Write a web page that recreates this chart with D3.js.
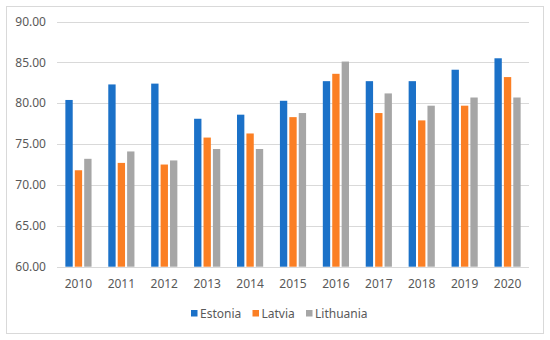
<!DOCTYPE html>
<html>
<head>
<meta charset="utf-8">
<script src="https://cdn.jsdelivr.net/npm/d3@7"></script>
<style>
  body { margin: 0; background: #fff; }
  text { font-family: "Noto Sans", sans-serif; fill: #595959; }
</style>
</head>
<body>
<svg id="chart" width="550" height="340"></svg>
<script>
const years = ["2010", "2011", "2012", "2013", "2014", "2015", "2016", "2017", "2018", "2019", "2020"];
const countries = ["Estonia", "Latvia", "Lithuania"];
const estonia = [80.4, 82.3, 82.4, 78.1, 78.6, 80.3, 82.7, 82.7, 82.7, 84.1, 85.5];
const latvia = [71.8, 72.7, 72.5, 75.8, 76.3, 78.3, 83.6, 78.8, 77.9, 79.7, 83.2];
const lithuania = [73.2, 74.1, 73.0, 74.4, 74.4, 78.8, 85.1, 81.2, 79.7, 80.7, 80.7];
const yTicks = [60, 65, 70, 75, 80, 85, 90];
const colors = ["#1b71c8", "#fb7f24", "#a6a6a6"];

const series = [estonia, latvia, lithuania];
const width = 550, height = 340;
const margin = { top: 21.5, right: 21, bottom: 73.3, left: 57 };

const svg = d3.select("#chart");

// outer frame
svg.append("rect")
  .attr("x", 6.5).attr("y", 6.5)
  .attr("width", 537).attr("height", 327)
  .attr("fill", "#fff")
  .attr("stroke", "#d9d9d9");

const x = d3.scaleBand()
  .domain(years)
  .range([margin.left, width - margin.right])
  .paddingInner(0.39)
  .paddingOuter(0.195);

const xSub = d3.scaleBand()
  .domain(countries)
  .range([0, x.bandwidth()])
  .paddingInner(0.22);

const y = d3.scaleLinear()
  .domain([60, 90])
  .range([height - margin.bottom, margin.top]);

// gridlines
svg.append("g")
  .selectAll("line")
  .data(yTicks)
  .enter()
  .append("line")
  .attr("x1", margin.left)
  .attr("x2", width - margin.right)
  .attr("y1", d => Math.round(y(d)) + 0.5)
  .attr("y2", d => Math.round(y(d)) + 0.5)
  .attr("stroke", "#d9d9d9")
  .attr("stroke-width", 1);

// y labels
svg.append("g")
  .selectAll("text")
  .data(yTicks)
  .enter()
  .append("text")
  .attr("x", 46)
  .attr("y", d => y(d))
  .attr("dy", "0.35em")
  .attr("text-anchor", "end")
  .style("font-size", "12px")
  .text(d => d.toFixed(2));

// bars
const groups = svg.append("g")
  .selectAll("g")
  .data(years)
  .enter()
  .append("g")
  .attr("transform", d => "translate(" + x(d) + ",0)");

groups.selectAll("rect")
  .data((d, i) => countries.map((c, j) => ({ c: c, v: series[j][i], j: j })))
  .enter()
  .append("rect")
  .attr("x", d => xSub(d.c))
  .attr("width", xSub.bandwidth())
  .attr("y", d => y(d.v))
  .attr("height", d => y(60) - y(d.v))
  .attr("fill", d => colors[d.j]);

// x labels
svg.append("g")
  .selectAll("text")
  .data(years)
  .enter()
  .append("text")
  .attr("x", d => x(d) + x.bandwidth() / 2)
  .attr("y", 284)
  .attr("dy", "0.35em")
  .attr("text-anchor", "middle")
  .style("font-size", "12px")
  .text(d => d);

// legend
const legendX = [191, 252.5, 306];
const legend = svg.append("g")
  .selectAll("g")
  .data(countries)
  .enter()
  .append("g")
  .attr("transform", (d, i) => "translate(" + legendX[i] + ",310)");

legend.append("rect")
  .attr("width", 6.5)
  .attr("height", 6.5)
  .attr("fill", (d, i) => colors[i]);

legend.append("text")
  .attr("x", 9)
  .attr("y", 3.3)
  .attr("dy", "0.35em")
  .style("font-size", "12px")
  .text(d => d);
</script>
</body>
</html>
